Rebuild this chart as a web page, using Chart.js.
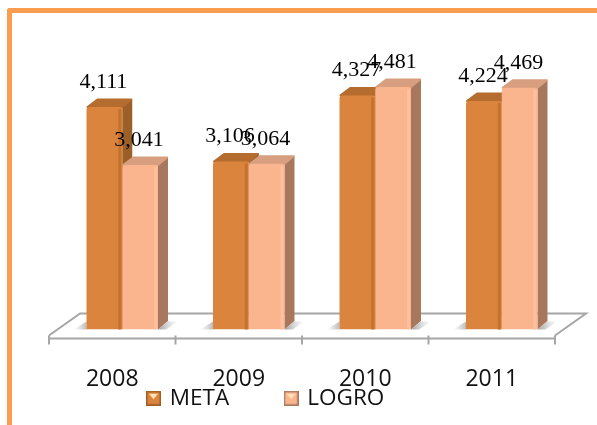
<!DOCTYPE html>
<html>
<head>
<meta charset="utf-8">
<title>Meta y logro</title>
<script src="https://cdn.jsdelivr.net/npm/chart.js@4"></script>
<style>
  html, body { margin: 0; padding: 0; background: #fff; overflow: hidden; }
  #frame { position: absolute; left: 7px; top: 8px; width: 590px; height: 417px; box-sizing: border-box;
    border-left: 5px solid #FB9D4E; border-top: 5px solid #FB9D4E; border-top-left-radius: 3px; }
  canvas { position: absolute; left: 0; top: 0; }
</style>
</head>
<body>
<div id="frame"></div>
<canvas id="chart" width="597" height="425"></canvas>
<script>
// Data
const years = ['2008', '2009', '2010', '2011'];
const meta = [4111, 3106, 4327, 4224];
const logro = [3041, 3064, 4481, 4469];

const DX = 10, DY = 8.5;
const LEGEND_GAP = 57;

const metaColors = { front: '#DB843D', side: '#9C5F28', top: '#B56D2F', edge: '#C4722E' };
const logroColors = { front: '#FAB48E', side: '#A8785E', top: '#D79F80', edge: '#FFC09E' };

// Little legend marker with the light triangle in it
function marker(c) {
  const m = document.createElement('canvas');
  m.width = 15; m.height = 15;
  const g = m.getContext('2d');
  g.fillStyle = c.front;
  g.fillRect(0, 0, 15, 15);
  g.fillStyle = c.side;
  g.fillRect(0, 0, 15, 1.5);
  g.fillRect(0, 13.5, 15, 1.5);
  g.fillRect(0, 0, 1.5, 15);
  g.fillRect(13.5, 0, 1.5, 15);
  g.fillStyle = '#FFE2B8';
  g.beginPath();
  g.moveTo(3, 3); g.lineTo(12, 3); g.lineTo(7.5, 8.5);
  g.closePath(); g.fill();
  return m;
}

function poly(ctx, pts, fill) {
  ctx.fillStyle = fill;
  ctx.beginPath();
  pts.forEach((p, i) => i ? ctx.lineTo(p[0], p[1]) : ctx.moveTo(p[0], p[1]));
  ctx.closePath();
  ctx.fill();
}

// Floor, axis and bar depth, drawn under the fronts
const box3d = {
  id: 'box3d',
  afterLayout(chart) {
    // legend overlaps the year labels in the original, so place it by hand
    const l = chart.legend;
    l.left = 148.5 - LEGEND_GAP;
    l.right = l.left + 400;
    l.top = 399 - LEGEND_GAP - 12;
    // tick labels get clipped to the scale box
    chart.scales.x.bottom = chart.height;
  },
  afterDatasetsUpdate(chart) {
    // bars stand on the middle of the floor, a bit to the right of the band
    chart.getSortedVisibleDatasetMetas().forEach(m => m.data.forEach(el => { el.x += DX; }));
  },
  beforeDatasetsDraw(chart) {
    const ctx = chart.ctx, s = chart.scales.x, base = chart.scales.y.getPixelForValue(0);
    const back = base - 16, front = base + 9;
    const x0 = s.left, x1 = s.right;

    ctx.save();
    ctx.strokeStyle = '#A6A6A6';
    ctx.lineWidth = 2;
    ctx.beginPath();
    ctx.moveTo(x0, front - 3);
    ctx.lineTo(x0 + 31, back);
    ctx.lineTo(x1 + 31, back);
    ctx.lineTo(x1, front - 3);
    ctx.stroke();
    ctx.beginPath();
    ctx.moveTo(x0, front);
    ctx.lineTo(x1, front);
    ctx.stroke();
    const step = (x1 - x0) / years.length;
    years.concat('').forEach((y, i) => {
      ctx.beginPath();
      ctx.moveTo(x0 + step * i, front - 3);
      ctx.lineTo(x0 + step * i, front + 6);
      ctx.stroke();
    });

    // soft shadow on the floor next to each pair
    const m0 = chart.getDatasetMeta(0).data, m1 = chart.getDatasetMeta(1).data;
    m0.forEach((el, i) => {
      const l = el.x - el.width / 2;
      const r = m1[i].x + m1[i].width / 2;
      const gl = ctx.createLinearGradient(l - 13, 0, l, 0);
      gl.addColorStop(0, 'rgba(190,190,190,0)');
      gl.addColorStop(1, 'rgba(170,170,170,0.8)');
      poly(ctx, [[l - 13, base], [l, base], [l, base - 8]], gl);
      const gr = ctx.createLinearGradient(r, 0, r + 20, 0);
      gr.addColorStop(0, 'rgba(150,150,150,0.9)');
      gr.addColorStop(1, 'rgba(190,190,190,0)');
      poly(ctx, [[r, base], [r + 10, base - 8], [r + 20, base - 8], [r + 8, base]], gr);
    });

    // sides and tops
    [[m0, metaColors], [m1, logroColors]].forEach(([bars, c]) => {
      bars.forEach(el => {
        const l = el.x - el.width / 2, r = el.x + el.width / 2;
        poly(ctx, [[r, el.y], [r + DX, el.y - DY], [r + DX, el.base - DY], [r, el.base]], c.side);
        const top = [[l + 1, el.y], [l + DX + 1, el.y - DY + 1], [r + DX - 1, el.y - DY + 1], [r, el.y]];
        poly(ctx, top, c.top);
        ctx.strokeStyle = c.top;
        ctx.lineJoin = 'round';
        ctx.lineWidth = 2;
        ctx.stroke();
      });
    });
    ctx.restore();
  },
  afterDatasetsDraw(chart) {
    const ctx = chart.ctx;
    ctx.save();
    // lighter or darker stripe down the right of each front
    [[0, metaColors], [1, logroColors]].forEach(([d, c]) => {
      chart.getDatasetMeta(d).data.forEach(el => {
        ctx.fillStyle = c.edge;
        ctx.fillRect(el.x + el.width / 2 - 4, el.y + 2, 3, el.base - el.y - 2);
      });
    });
    ctx.font = '22px "Liberation Serif"';
    ctx.fillStyle = '#000';
    ctx.textAlign = 'center';
    ctx.textBaseline = 'alphabetic';
    [[0, meta], [1, logro]].forEach(([d, vals]) => {
      chart.getDatasetMeta(d).data.forEach((el, i) => {
        ctx.fillText(vals[i].toLocaleString('en-US'), el.x - 1, el.y - 19);
      });
    });
    ctx.restore();
  }
};

new Chart(document.getElementById('chart'), {
  type: 'bar',
  data: {
    labels: years,
    datasets: [
      { label: 'META', data: meta, backgroundColor: metaColors.front, borderRadius: { topLeft: 3, topRight: 2 }, pointStyle: marker(metaColors) },
      { label: 'LOGRO', data: logro, backgroundColor: logroColors.front, borderRadius: { topLeft: 3, topRight: 2 }, pointStyle: marker(logroColors) }
    ]
  },
  options: {
    responsive: false,
    animation: false,
    layout: { padding: { left: 49, right: 42, top: 59, bottom: 0 } },
    datasets: { bar: { barPercentage: 1, categoryPercentage: 0.565 } },
    plugins: {
      tooltip: { enabled: false },
      legend: {
        position: 'bottom',
        align: 'start',
        labels: {
          usePointStyle: true,
          pointStyleWidth: 10,
          color: '#111',
          padding: LEGEND_GAP,
          font: { family: '"Open Sans"', size: 22.5 }
        }
      }
    },
    scales: {
      x: {
        grid: { display: false },
        border: { display: false },
        afterFit(scale) { scale.height = 6; },
        ticks: { color: '#111', padding: 28, font: { family: '"Open Sans"', size: 23 } }
      },
      y: { display: false, min: 0, max: 5000 }
    }
  },
  plugins: [box3d]
});
</script>
</body>
</html>
